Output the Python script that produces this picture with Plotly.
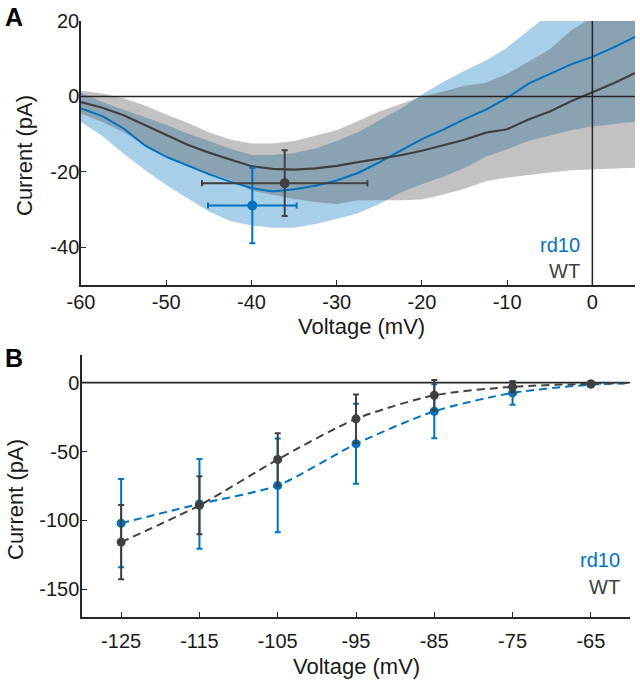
import plotly.graph_objects as go

# ---------------- Panel A data ----------------
volt_a = [-60, -57.5, -55, -52.5, -50, -47.5, -45, -42.5, -40, -37.5, -35, -32.5, -30,
          -27.5, -25, -22.5, -20, -17.5, -15, -12.5, -10, -7.5, -5, -2.5, 0, 2.5, 5]
wt_mean = [-1.5, -3.0, -5.0, -7.6, -10.3, -12.8, -14.9, -16.6, -18.5, -19.2, -19.4, -19.1, -18.4,
           -17.4, -16.5, -15.6, -14.4, -13.0, -11.5, -9.6, -8.7, -6.1, -4.0, -1.3, 1.0, 3.5, 6.2]
wt_upper = [1.5, 0.8, -0.5, -2.4, -4.8, -7.0, -9.5, -11.4, -12.5, -12.5, -11.8, -10.5, -9.0,
            -6.5, -4.0, -2.0, 0.0, 1.3, 2.8, 3.6, 6.0, 9.2, 12.5, 17.5, 21.0, 24.0, 27.0]
wt_lower = [-4.5, -6.8, -9.5, -12.8, -15.8, -18.6, -20.4, -22.1, -25.0, -26.2, -27.2, -28.0, -28.5,
            -27.5, -27.5, -27.5, -27.3, -26.0, -24.5, -22.5, -21.5, -20.8, -20.2, -19.6, -19.4, -19.2, -18.9]
rd10_mean = [-3.2, -5.2, -8.5, -13.0, -16.0, -18.3, -20.6, -22.6, -24.3, -25.2, -24.6, -23.7, -22.3,
             -20.3, -17.5, -14.4, -11.3, -8.8, -6.0, -3.5, -0.4, 3.4, 6.0, 8.5, 10.5, 13.0, 15.8]
rd10_upper = [1.0, -1.5, -3.5, -5.4, -7.5, -9.8, -11.8, -13.8, -15.5, -15.5, -15.0, -13.8, -11.8,
              -9.5, -6.3, -3.3, 0.5, 3.8, 6.8, 9.5, 13.0, 17.5, 22.0, 26.0, 29.0, 33.0, 37.0]
rd10_lower = [-6.8, -10.5, -15.2, -19.5, -23.5, -27.0, -30.5, -33.0, -34.2, -34.8, -34.8, -33.8, -32.5,
              -31.0, -28.5, -25.5, -23.3, -21.3, -19.0, -16.0, -14.0, -11.8, -10.3, -9.0, -8.0, -7.3, -6.7]

# summary points (peak voltage / peak current, mean +/- error)
wt_peak_v, wt_peak_v_err = -36.1, 9.7
wt_peak_i, wt_peak_i_err = -23.0, 8.7
rd10_peak_v, rd10_peak_v_err = -39.9, 5.2
rd10_peak_i, rd10_peak_i_err = -28.9, 10.0

xticks_a = [-60, -50, -40, -30, -20, -10, 0]
xtick_labels_a = ["-60", "-50", "-40", "-30", "-20", "-10", "0"]
yticks_a = [-40, -20, 0, 20]
ytick_labels_a = ["-40", "-20", "0", "20"]

# ---------------- Panel B data ----------------
volt_b = [-125, -115, -105, -95, -85, -75, -65]
volt_b_labels = ["-125", "-115", "-105", "-95", "-85", "-75", "-65"]
rd10_b = [-102, -88, -74.6, -44.4, -20.8, -7.5, -1.0]
rd10_b_err = [32, 32.5, 34, 29, 19.5, 8.5, 2.0]
wt_b = [-115.7, -89, -55.8, -26.3, -9.2, -3.1, -1.0]
wt_b_err = [27, 21, 19, 17.6, 11, 4, 2.0]
yticks_b = [-150, -100, -50, 0]
ytick_labels_b = ["-150", "-100", "-50", "0"]
# dashed fitted curves (read at data voltages plus the right end)
fit_v = [-125, -115, -105, -95, -85, -75, -65, -60]
rd10_fit = [-102, -88, -74.6, -44.4, -20.8, -7.5, -1.5, -0.5]
wt_fit = [-115.7, -89, -55.8, -26.3, -9.2, -3.1, -0.8, -0.3]

BLUE = "#0072BD"
GRAY = "#404040"
AX = "#262626"
FONT = "Arial, Liberation Sans, sans-serif"
W, H = 640, 682


def px(x):
    return x / W


def py(y):
    return 1 - y / H


fig = go.Figure()

# ---- Panel A bands ----
fig.add_trace(go.Scatter(x=volt_a + volt_a[::-1], y=rd10_upper + rd10_lower[::-1],
                         fill="toself", fillcolor="rgba(0,114,189,0.34)", line=dict(width=0),
                         mode="lines", hoverinfo="skip", showlegend=False, xaxis="x", yaxis="y"))
fig.add_trace(go.Scatter(x=volt_a + volt_a[::-1], y=wt_upper + wt_lower[::-1],
                         fill="toself", fillcolor="rgba(85,85,85,0.36)", line=dict(width=0),
                         mode="lines", hoverinfo="skip", showlegend=False, xaxis="x", yaxis="y"))
fig.add_trace(go.Scatter(x=volt_a, y=rd10_mean, mode="lines", line=dict(color=BLUE, width=2),
                         showlegend=False, xaxis="x", yaxis="y"))
fig.add_trace(go.Scatter(x=volt_a, y=wt_mean, mode="lines", line=dict(color=GRAY, width=2.2),
                         showlegend=False, xaxis="x", yaxis="y"))
fig.add_trace(go.Scatter(x=[rd10_peak_v], y=[rd10_peak_i], mode="markers",
                         marker=dict(color=BLUE, size=10),
                         error_x=dict(type="data", array=[rd10_peak_v_err], color=BLUE, thickness=2, width=3),
                         error_y=dict(type="data", array=[rd10_peak_i_err], color=BLUE, thickness=2, width=3),
                         showlegend=False, xaxis="x", yaxis="y"))
fig.add_trace(go.Scatter(x=[wt_peak_v], y=[wt_peak_i], mode="markers",
                         marker=dict(color=GRAY, size=10),
                         error_x=dict(type="data", array=[wt_peak_v_err], color=GRAY, thickness=2, width=3),
                         error_y=dict(type="data", array=[wt_peak_i_err], color=GRAY, thickness=2, width=3),
                         showlegend=False, xaxis="x", yaxis="y"))

# ---- Panel B ----
fig.add_trace(go.Scatter(x=fit_v, y=rd10_fit, mode="lines", line=dict(color=BLUE, width=2, dash="8px,5px", shape="spline", smoothing=0.7),
                         showlegend=False, xaxis="x2", yaxis="y2"))
fig.add_trace(go.Scatter(x=fit_v, y=wt_fit, mode="lines", line=dict(color=GRAY, width=2, dash="8px,5px", shape="spline", smoothing=0.7),
                         showlegend=False, xaxis="x2", yaxis="y2"))
fig.add_trace(go.Scatter(x=volt_b, y=rd10_b, mode="markers", marker=dict(color=BLUE, size=9),
                         error_y=dict(type="data", array=rd10_b_err, color=BLUE, thickness=2, width=3),
                         showlegend=False, xaxis="x2", yaxis="y2"))
fig.add_trace(go.Scatter(x=volt_b, y=wt_b, mode="markers", marker=dict(color=GRAY, size=9),
                         error_y=dict(type="data", array=wt_b_err, color=GRAY, thickness=2, width=3),
                         showlegend=False, xaxis="x2", yaxis="y2"))

axis_common = dict(showline=True, linecolor=AX, linewidth=1.5, ticks="inside", ticklen=5,
                   tickwidth=1.3, tickcolor=AX, showgrid=False, zeroline=False, automargin=False,
                   tickfont=dict(family=FONT, size=20, color="#1a1a1a"))

fig.update_layout(
    width=W, height=H, margin=dict(l=0, r=0, t=0, b=0, autoexpand=False),
    plot_bgcolor="white", paper_bgcolor="white", showlegend=False,
    xaxis=dict(domain=[px(81), px(635)], range=[-60, 5], tickvals=xticks_a, ticktext=xtick_labels_a,
               anchor="y", ticklabelstandoff=-2, **axis_common),
    yaxis=dict(domain=[py(285), py(21)], range=[-50, 20], tickvals=yticks_a, ticktext=ytick_labels_a,
               anchor="x", ticklabelstandoff=-4, **axis_common),
    xaxis2=dict(domain=[px(82), px(630)], range=[-130, -60], tickvals=volt_b, ticktext=volt_b_labels,
                anchor="y2", ticklabelstandoff=5, **axis_common),
    yaxis2=dict(domain=[py(617), py(355)], range=[-170, 20], tickvals=yticks_b, ticktext=ytick_labels_b,
                anchor="x2", ticklabelstandoff=-3, **axis_common),
)

# reference lines at zero
fig.add_shape(type="line", xref="x domain", yref="y", x0=0, x1=1, y0=0, y1=0, line=dict(color=AX, width=1.5), layer="above")
fig.add_shape(type="line", xref="x", yref="y domain", x0=0, x1=0, y0=0, y1=1, line=dict(color=AX, width=1.5), layer="above")
fig.add_shape(type="line", xref="x2 domain", yref="y2", x0=0, x1=1, y0=0, y1=0, line=dict(color=AX, width=1.8), layer="below")

ann = []
def text(x, y, s, size=22, color="#1a1a1a", bold=False, angle=0, xanchor="center"):
    ann.append(dict(x=px(x), y=py(y), xref="paper", yref="paper", text=("<b>%s</b>" % s) if bold else s,
                    showarrow=False, textangle=angle, xanchor=xanchor, yanchor="middle",
                    font=dict(family=FONT, size=size, color=color)))

text(14, 17, "A", size=25, bold=True, color="black")
text(13.5, 358, "B", size=25, bold=True, color="black")
text(24, 156, "Current (pA)", angle=-90)
text(15, 500, "Current (pA)", angle=-90)
text(361, 326, "Voltage (mV)")
text(356, 666, "Voltage (mV)")
text(582, 245, "rd10", size=20, color=BLUE, xanchor="right")
text(582, 271, "WT", size=20, color=GRAY, xanchor="right")
text(622, 560, "rd10", size=20, color=BLUE, xanchor="right")
text(622, 587, "WT", size=20, color=GRAY, xanchor="right")
fig.update_layout(annotations=ann)

# remove the default page margin so the 640x682 figure fills the window exactly
fig.write_html("out.html", config={"displayModeBar": False},
               post_script="document.body.style.margin='0';document.body.style.overflow='hidden';")
